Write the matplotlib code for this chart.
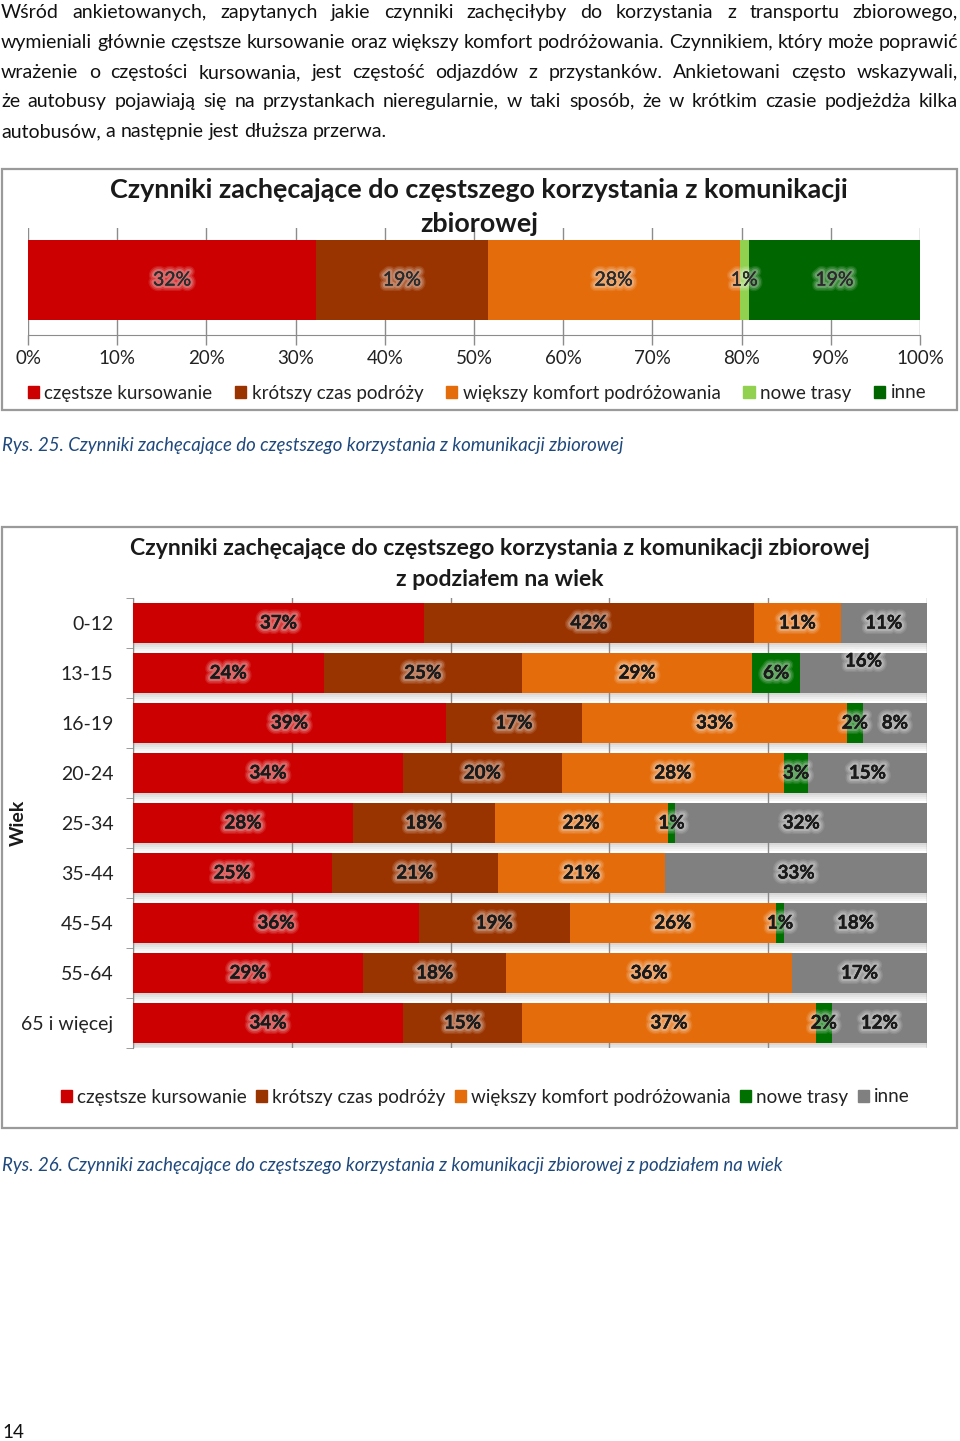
import numpy as np
import matplotlib
matplotlib.use('Agg')
import matplotlib.pyplot as plt
import matplotlib.patheffects as pe
from matplotlib.patches import Rectangle

plt.rcParams['font.family'] = ['Lato', 'DejaVu Sans']

W, H = 960, 1441

# dane
kategorie = ['częstsze kursowanie', 'krótszy czas podróży', 'większy komfort podróżowania', 'nowe trasy', 'inne']
ogolem = [32, 19, 28, 1, 19]

wiek = ['0-12', '13-15', '16-19', '20-24', '25-34', '35-44', '45-54', '55-64', '65 i więcej']
czestsze = [37, 24, 39, 34, 28, 25, 36, 29, 34]
krotszy = [42, 25, 17, 20, 18, 21, 19, 18, 15]
komfort = [11, 29, 33, 28, 22, 21, 26, 36, 37]
nowe = [0, 6, 2, 3, 1, 0, 1, 0, 2]
inne = [11, 16, 8, 15, 32, 33, 18, 17, 12]

kolory1 = ['#CC0000', '#993300', '#E46C0A', '#92D050', '#006600']
kolory2 = ['#CC0000', '#993300', '#E46C0A', '#007000', '#808080']

akapit = [
    ('Wśród ankietowanych, zapytanych jakie czynniki zachęciłyby do korzystania z transportu zbiorowego,', True),
    ('wymieniali głównie częstsze kursowanie oraz większy komfort podróżowania. Czynnikiem, który może poprawić', True),
    ('wrażenie o częstości kursowania, jest częstość odjazdów z przystanków. Ankietowani często wskazywali,', True),
    ('że autobusy pojawiają się na przystankach nieregularnie, w taki sposób, że w krótkim czasie podjeżdża kilka', True),
    ('autobusów, a następnie jest dłuższa przerwa.', False),
]

fig = plt.figure(figsize=(W / 100, H / 100), dpi=100)
r = fig.canvas.get_renderer()


def px_axes(x0, y0, x1, y1):
    return fig.add_axes([x0 / W, 1 - y1 / H, (x1 - x0) / W, (y1 - y0) / H])


def fx(x):
    return x / W


def fy(y):
    return 1 - y / H


def szer(s, fs, **kw):
    t = fig.text(0, 0, s, fontsize=fs, **kw)
    w = t.get_window_extent(renderer=r).width
    t.remove()
    return w


# akapit tekstu (wyjustowany)
fs_txt = 10 * 957 / szer(akapit[1][0], 10)
spacja = szer('a a', fs_txt) - szer('aa', fs_txt)
y_lin = [18, 48, 78, 107, 137]
for (linia, justuj), yb in zip(akapit, y_lin):
    slowa = linia.split()
    szerokosci = [szer(s, fs_txt) for s in slowa]
    if justuj:
        odstep = (957 - sum(szerokosci)) / (len(slowa) - 1)
    else:
        odstep = spacja
    x = 1
    for s, w in zip(slowa, szerokosci):
        fig.text(fx(x), fy(yb), s, fontsize=fs_txt, color='#111111', va='baseline')
        x += w + odstep

# miekka poswiata wokol etykiet
glow = [pe.withStroke(linewidth=8, foreground=(1, 1, 1, 0.10)),
        pe.withStroke(linewidth=6, foreground=(1, 1, 1, 0.15)),
        pe.withStroke(linewidth=3.5, foreground=(1, 1, 1, 0.22)),
        pe.Normal()]

# ---------------- wykres 1 ----------------
fig.patches.append(Rectangle((fx(2), fy(410)), fx(955), (408 - 167) / H, transform=fig.transFigure,
                             fill=False, edgecolor='#9A9A9A', lw=1.6))
fig.text(fx(479), fy(190), 'Czynniki zachęcające do częstszego korzystania z komunikacji',
         fontsize=19.4, fontweight='bold', ha='center', va='center', color='#1a1a1a')
fig.text(fx(479), fy(224), 'zbiorowej', fontsize=19.4, fontweight='bold', ha='center', va='center',
         color='#1a1a1a')

ax1 = px_axes(28, 228, 920, 335)
v1 = np.array(ogolem, dtype=float)
v1 = v1 / v1.sum() * 100
lewo = 0
for val, lab, kol in zip(v1, ogolem, kolory1):
    ax1.barh(0, val, left=lewo, height=1.0, color=kol, zorder=3)
    ax1.text(lewo + val / 2, 0, f'{lab}%', ha='center', va='center', fontsize=14,
             color='#2a2a2a', zorder=4, path_effects=glow)
    lewo += val
ax1.set_xlim(0, 100)
ax1.set_ylim(-55 / 80, 52 / 80)
ax1.set_xticks(np.arange(0, 101, 10))
ax1.set_xticklabels([f'{t}%' for t in range(0, 101, 10)], fontsize=13.5, color='#222222')
ax1.xaxis.grid(True, color='#8C8C8C', lw=1, zorder=0)
ax1.tick_params(axis='x', length=7, color='#8C8C8C', width=1, pad=4)
ax1.set_yticks([])
for s in ['top', 'right', 'left']:
    ax1.spines[s].set_visible(False)
ax1.spines['bottom'].set_color('#8C8C8C')
ax1.set_facecolor('none')

uchwyty1 = [Rectangle((0, 0), 1, 1, color=k) for k in kolory1]
fig.legend(uchwyty1, kategorie, loc='center', bbox_to_anchor=(fx(477), fy(393)), ncol=5,
           frameon=False, fontsize=13.5, handlelength=0.6, handleheight=0.6, handletextpad=0.3,
           columnspacing=1.2, borderpad=0, labelcolor='#222222')

fig.text(fx(2), fy(446), 'Rys. 25. Czynniki zachęcające do częstszego korzystania z komunikacji zbiorowej',
         fontsize=13.4, style='italic', color='#1F497D', va='center')

# ---------------- wykres 2 ----------------
fig.patches.append(Rectangle((fx(2), fy(1128)), fx(955), (1128 - 527) / H, transform=fig.transFigure,
                             fill=False, edgecolor='#9A9A9A', lw=1.6))
fig.text(fx(500), fy(549), 'Czynniki zachęcające do częstszego korzystania z komunikacji zbiorowej',
         fontsize=16.6, fontweight='bold', ha='center', va='center', color='#1a1a1a')
fig.text(fx(500), fy(579), 'z podziałem na wiek', fontsize=16.6, fontweight='bold', ha='center',
         va='center', color='#1a1a1a')

ax2 = px_axes(133, 598, 927, 1048)
dane2 = np.array([czestsze, krotszy, komfort, nowe, inne], dtype=float).T
proc = dane2 / dane2.sum(axis=1, keepdims=True) * 100
y = np.arange(len(wiek))
# cien pod paskami
for k, a in enumerate([0.30, 0.22, 0.14, 0.07]):
    ax2.barh(y + 0.4 + 0.04 * k + 0.02, 100, height=0.04, color='#7F7F7F', alpha=a, lw=0, zorder=2)
przesun = {(1, 4): -0.24}
lewo = np.zeros(len(wiek))
for j in range(5):
    ax2.barh(y, proc[:, j], left=lewo, height=0.8, color=kolory2[j], zorder=3)
    for i in range(len(wiek)):
        if dane2[i, j] > 0:
            ax2.text(lewo[i] + proc[i, j] / 2, y[i] + przesun.get((i, j), 0), f'{int(dane2[i, j])}%',
                     ha='center', va='center', fontsize=13.5, fontweight='bold', color='#1a1a1a',
                     zorder=4, path_effects=glow)
    lewo += proc[:, j]
ax2.set_xlim(0, 100)
ax2.set_ylim(len(wiek) - 0.5, -0.5)
ax2.set_xticks(np.arange(0, 101, 20))
ax2.set_xticklabels([])
ax2.tick_params(axis='x', length=0)
ax2.xaxis.grid(True, color='#8C8C8C', lw=1, zorder=0)
ax2.set_yticks(y)
ax2.set_yticklabels(wiek, fontsize=14, color='#222222')
ax2.set_yticks(np.arange(-0.5, len(wiek), 1), minor=True)
ax2.tick_params(axis='y', which='major', length=0, pad=14)
ax2.tick_params(axis='y', which='minor', length=5, color='#8C8C8C')
for s in ['top', 'right', 'bottom']:
    ax2.spines[s].set_visible(False)
ax2.spines['left'].set_color('#8C8C8C')
ax2.set_facecolor('none')

fig.text(fx(18), fy(823), 'Wiek', fontsize=14, fontweight='bold', rotation=90, ha='center', va='center',
         color='#1a1a1a')

uchwyty2 = [Rectangle((0, 0), 1, 1, color=k) for k in kolory2]
fig.legend(uchwyty2, kategorie, loc='center', bbox_to_anchor=(fx(485), fy(1097)), ncol=5,
           frameon=False, fontsize=13.6, handlelength=0.6, handleheight=0.6, handletextpad=0.25,
           columnspacing=0.5, borderpad=0, labelcolor='#222222')

fig.text(fx(2), fy(1166), 'Rys. 26. Czynniki zachęcające do częstszego korzystania z komunikacji zbiorowej '
         'z podziałem na wiek', fontsize=13.4, style='italic', color='#1F497D', va='center')

fig.text(fx(2), fy(1432), '14', fontsize=13.5, color='#111111', va='center')

fig.savefig('out.png', dpi=100)
